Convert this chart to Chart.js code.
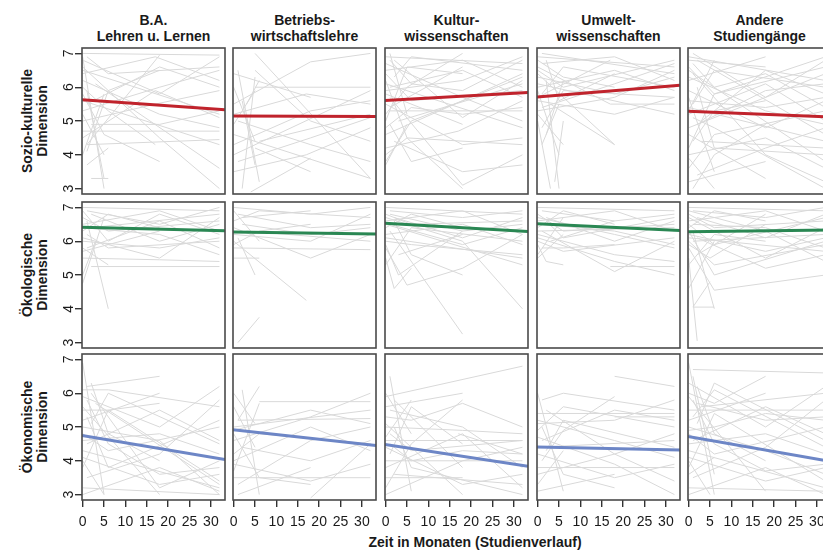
<!DOCTYPE html>
<html lang="de">
<head>
<meta charset="utf-8">
<title>Verläufe der Dimensionen nach Studiengang</title>
<script src="https://cdn.jsdelivr.net/npm/chart.js@4.4.1/dist/chart.umd.min.js"></script>
<style>
  html, body { margin: 0; padding: 0; background: #fff; }
  body {
    width: 823px; height: 551px; position: relative; overflow: hidden;
    font-family: "Liberation Sans", Arial, sans-serif; color: #1a1a1a;
  }
  canvas { position: absolute; }
  .titel {
    position: absolute; top: 12px; width: 170px; text-align: center;
    font-weight: bold; font-size: 14px; line-height: 16px; white-space: pre-line;
  }
  .dim {
    position: absolute; left: 35px; font-weight: bold; font-size: 14px; line-height: 15px;
    text-align: center; white-space: pre; transform: translate(-50%, -50%) rotate(-90deg);
  }
  #xtitel {
    position: absolute; left: 475px; top: 534px; transform: translateX(-50%);
    font-weight: bold; font-size: 14px; line-height: 16px; white-space: nowrap;
  }
</style>
</head>
<body>
<div id="xtitel">Zeit in Monaten (Studienverlauf)</div>
<script>
// Spalten / Zeilen / Achsen
const studiengaenge = ['B.A.\nLehren u. Lernen', 'Betriebs-\nwirtschaftslehre', 'Kultur-\nwissenschaften', 'Umwelt-\nwissenschaften', 'Andere\nStudiengänge'];
const dimensionen = ['Sozio-kulturelle\nDimension', 'Ökologische\nDimension', 'Ökonomische\nDimension'];
const zeitTicks = [0, 5, 10, 15, 20, 25, 30];
const skalaTicks = [3, 4, 5, 6, 7];

// Trendlinien: Wert am Anfang und Ende des Zeitraums, je Studiengang
const trendZeit = [-0.15, 33.3];
const trendSozio = [[5.63, 5.33], [5.15, 5.13], [5.61, 5.84], [5.71, 6.06], [5.29, 5.12]];
const trendOeko = [[6.41, 6.31], [6.27, 6.21], [6.53, 6.29], [6.52, 6.32], [6.28, 6.33]];
const trendOekon = [[4.75, 4.04], [4.92, 4.45], [4.48, 3.84], [4.41, 4.32], [4.72, 3.98]];

// Einzelverläufe (Monat, Wert, Monat, Wert, ...)
const verlaeufeSozio = [
  [ // B.A. Lehren u. Lernen
    [0,7.0, 32,6.95], [0,6.9, 5,3.0], [1,4.3, 18,6.95], [1,4.3, 32,4.45], [0,5.6, 32,4.3],
    [0,6.8, 18,5.8, 32,6.9], [0,6.4, 17,6.9, 32,6.2], [1,5.9, 5,3.3], [0,5.2, 5,4.0],
    [1,4.1, 6,5.9, 18,6.5], [0,6.6, 18,4.5, 32,3.0], [0,5.0, 17,5.5, 32,5.9], [0,4.7, 32,4.7],
    [2,3.3, 6,3.3], [0,6.2, 18,5.2, 32,4.8], [0,6.0, 6,5.3, 17,4.3], [1,5.5, 18,6.6, 32,6.0],
    [0,4.5, 17,5.9, 32,5.1], [1,6.9, 6,6.4, 32,6.6], [0,5.8, 5,4.6, 18,3.8], [2,4.9, 18,4.9, 32,5.3],
    [0,6.5, 32,5.2], [1,3.7, 6,4.2], [0,5.3, 18,6.0, 32,6.5], [3,6.1, 32,3.6], [0,4.0, 5,5.8]
  ],
  [ // Betriebswirtschaftslehre
    [0,5.5, 18,6.75, 32,7.0], [5,7.0, 32,3.3], [0,4.0, 32,5.9], [2,3.0, 5,6.3], [0,6.0, 5,4.4],
    [1,6.5, 6,3.2], [3,5.5, 6,6.2], [0,4.6, 32,3.3], [0,4.3, 18,5.3, 32,5.6], [5,6.5, 18,5.0, 32,4.4],
    [1,3.8, 18,4.5, 32,5.1], [0,5.2, 17,5.8, 32,5.5], [5,4.2, 18,3.5], [0,3.5, 17,4.0, 32,4.8],
    [5,6.0, 32,6.0], [0,4.9, 5,5.9], [2,5.6, 5,3.7], [4,2.9, 18,3.9], [0,6.4, 18,5.7],
    [6,4.4, 32,5.2], [1,5.0, 18,4.3, 32,3.8]
  ],
  [ // Kulturwissenschaften
    [0,6.9, 32,6.7], [1,7.0, 5,5.2], [0,6.5, 18,6.8, 32,6.0], [2,6.8, 18,5.1, 32,6.2],
    [0,5.9, 18,6.2, 32,6.9], [0,6.2, 5,4.5, 18,3.0], [1,5.7, 18,3.1, 32,4.0], [0,5.0, 5,6.6, 18,6.4],
    [0,4.6, 18,5.6, 32,6.4], [1,5.3, 32,5.3], [0,4.2, 17,4.7, 32,5.6], [2,6.3, 6,6.9, 32,6.5],
    [0,5.5, 18,4.3, 32,4.5], [1,4.9, 6,3.8, 18,4.2], [0,6.7, 18,5.7, 32,5.0], [0,3.8, 6,5.0, 32,6.3],
    [1,6.0, 18,6.5, 32,5.7], [0,5.2, 5,6.0, 18,7.0], [2,4.4, 18,3.5, 32,3.7], [0,6.4, 6,5.6, 32,5.9],
    [0,4.0, 5,4.5, 32,4.3], [1,6.8, 6,6.1, 18,5.9, 32,6.8], [0,5.8, 18,4.9], [3,5.0, 32,6.1],
    [0,3.7, 5,4.9], [0,6.1, 32,4.8], [1,5.4, 18,6.6], [0,4.8, 6,5.4, 18,5.2, 32,5.4]
  ],
  [ // Umweltwissenschaften
    [0,6.9, 32,6.6], [1,6.7, 18,6.9, 32,6.2], [0,6.5, 6,6.0, 32,6.8], [0,6.3, 18,5.8, 32,6.3],
    [2,6.8, 5,5.6, 18,6.4], [0,6.0, 18,6.5, 32,5.9], [1,5.8, 6,6.6, 32,6.0], [0,5.6, 18,5.2, 32,5.7],
    [0,6.6, 17,5.5, 32,5.5], [1,5.4, 18,6.1, 32,6.7], [0,5.2, 6,4.3], [2,6.2, 5,3.0], [0,5.0, 3,3.0],
    [1,4.8, 6,5.9, 32,5.7], [0,6.4, 18,4.3], [3,5.5, 18,4.3], [0,5.9, 5,4.0], [1,7.0, 32,6.4],
    [0,5.3, 18,5.7, 32,6.5], [2,4.6, 6,6.2], [0,6.1, 32,5.2], [1,4.3, 5,5.5], [0,6.8, 6,6.3, 18,6.0],
    [4,3.2, 6,5.0], [0,5.7, 17,6.8]
  ],
  [ // Andere Studiengänge
    [0,6.9, 32,6.2], [1,7.0, 18,5.7, 32,6.8], [0,6.6, 6,5.8, 32,6.9], [0,6.2, 18,6.9], [2,6.8, 32,4.6],
    [0,5.9, 18,4.8, 32,5.6], [1,5.5, 6,6.5, 32,6.0], [0,5.2, 18,6.1, 32,5.0], [0,4.8, 32,6.4],
    [1,4.4, 6,5.3, 18,5.6], [0,4.0, 18,4.5, 32,3.6], [2,6.0, 6,4.2, 32,4.0], [0,3.6, 6,4.6, 32,5.3],
    [0,3.2, 18,3.8], [1,6.4, 18,4.0, 32,3.2], [0,5.7, 6,3.5], [3,5.0, 18,6.5, 32,5.8], [0,4.6, 18,3.3],
    [1,6.7, 6,6.0, 18,6.4, 32,5.4], [0,5.4, 32,4.4], [0,4.2, 6,5.8, 32,6.6], [2,3.4, 18,4.2, 32,4.8],
    [0,6.3, 18,5.3, 32,4.9], [1,5.1, 6,4.8, 32,3.0], [0,3.9, 6,3.0], [0,6.8, 18,6.6],
    [2,4.9, 18,5.9, 32,6.1], [0,5.6, 18,5.4, 32,5.7], [1,3.0, 6,4.0, 18,4.9], [0,6.5, 32,3.8],
    [3,4.4, 32,4.2], [0,5.3, 6,6.8]
  ]
];

const verlaeufeOeko = [
  [ // B.A. Lehren u. Lernen
    [0,7.0, 32,6.9], [1,6.9, 18,6.5, 32,7.0], [0,6.7, 6,6.3, 32,6.6], [0,6.5, 18,6.9, 32,6.3],
    [2,6.8, 18,6.0, 32,6.5], [0,6.3, 6,6.8, 18,6.4], [0,6.0, 18,5.8, 32,6.1], [1,5.8, 18,6.6, 32,5.8],
    [0,6.1, 18,5.5, 32,6.7], [0,5.8, 6,5.3], [1,6.6, 6,4.0], [0,4.75, 5,6.7], [2,5.25, 32,5.25],
    [0,5.5, 18,5.45, 32,5.4], [0,6.4, 18,6.2, 32,5.6], [1,6.2, 6,5.8, 32,6.0], [0,5.0, 3,6.0],
    [0,6.9, 6,6.0, 18,6.8, 32,6.2], [2,6.4, 32,6.8], [0,5.7, 18,6.3]
  ],
  [ // Betriebswirtschaftslehre
    [0,7.0, 18,6.8, 32,7.0], [1,6.8, 18,6.4, 32,6.5], [0,6.6, 6,6.9, 32,6.7], [0,6.4, 18,5.5, 32,6.2],
    [2,6.7, 18,6.9], [0,6.2, 18,6.0, 32,6.8], [0,6.0, 17,4.25], [1,3.0, 6,3.75], [1,6.1, 5,5.0],
    [0,5.8, 32,5.75], [0,5.5, 6,5.5], [2,6.5, 18,6.2, 32,6.4], [0,5.9, 6,6.3, 18,6.5], [0,6.9, 6,6.0],
    [3,6.3, 32,6.0]
  ],
  [ // Kulturwissenschaften
    [0,7.0, 32,6.8], [1,6.9, 18,6.7, 32,6.9], [0,6.8, 6,6.5, 32,6.6], [0,6.6, 18,6.9, 32,6.2],
    [2,6.7, 18,6.1, 32,6.7], [0,6.4, 6,6.8, 18,6.4], [0,6.2, 18,6.5, 32,5.9], [1,6.5, 18,5.9, 32,6.4],
    [0,6.0, 6,5.9, 32,5.6], [0,5.9, 3,5.0, 18,6.3], [0,5.5, 2,4.6, 6,5.2], [1,6.3, 18,3.25],
    [0,5.8, 5,4.7, 18,5.2, 32,6.2], [2,6.6, 6,5.6, 18,5.0], [0,6.7, 18,6.0, 32,4.0], [3,5.6, 18,6.2],
    [0,6.1, 32,5.5], [1,6.8, 18,6.3, 32,6.5], [0,5.3, 6,6.4, 32,6.0], [0,6.5, 32,5.3]
  ],
  [ // Umweltwissenschaften
    [0,7.0, 32,6.9], [1,6.9, 18,6.6, 32,6.8], [0,6.8, 6,6.3, 32,6.5], [0,6.6, 18,6.9, 32,6.3],
    [2,6.7, 18,6.0, 32,6.6], [0,6.4, 6,6.9, 18,6.5], [0,6.2, 18,5.6, 32,5.4], [1,6.5, 18,6.3, 32,5.9],
    [0,6.0, 6,5.7, 32,6.1], [0,5.9, 2,5.4, 6,5.3], [0,5.6, 6,6.7], [1,6.3, 18,5.1, 32,6.0],
    [17,5.25, 32,5.25], [0,6.1, 18,5.4, 32,5.0], [2,6.6, 6,6.1, 32,6.7], [0,5.5, 6,6.2],
    [0,6.7, 18,6.2, 32,5.8], [3,6.0, 18,6.6], [0,6.3, 32,6.4], [1,5.8, 6,5.8, 18,5.9]
  ],
  [ // Andere Studiengänge
    [0,7.0, 32,6.9], [1,6.9, 18,6.7, 32,7.0], [0,6.8, 6,6.4, 32,6.6], [0,6.6, 18,6.9, 32,6.3],
    [2,6.7, 18,6.1, 32,6.8], [0,6.4, 6,6.9, 18,6.6], [0,6.2, 18,5.7, 32,6.1], [1,6.5, 18,6.4, 32,5.8],
    [0,6.0, 6,5.3, 32,5.9], [0,5.8, 6,4.55, 32,5.0], [1,4.05, 6,4.05], [1,4.05, 5,4.8], [0,5.5, 2,3.05],
    [1,6.3, 6,4.0], [0,6.7, 18,5.5, 32,6.4], [0,5.3, 6,6.2, 18,6.0], [2,6.1, 18,5.2, 32,5.6],
    [0,6.5, 6,5.9, 32,6.7], [0,5.9, 5,5.5, 18,6.5], [1,6.0, 32,6.2], [0,4.6, 6,6.0],
    [0,6.9, 18,6.3, 32,5.4], [2,5.6, 18,6.8], [0,6.3, 6,5.0, 32,6.0], [0,6.1, 32,5.7]
  ]
];

const verlaeufeOekon = [
  [ // B.A. Lehren u. Lernen
    [0,6.9, 5,3.0], [1,6.2, 18,6.5], [0,6.1, 6,6.1, 32,5.6], [0,5.9, 18,5.0, 32,6.2],
    [2,6.0, 18,3.2, 32,4.0], [0,5.5, 6,5.5, 18,5.7], [1,5.3, 6,3.8, 32,5.2], [0,5.0, 18,4.6, 32,3.0],
    [0,4.8, 6,4.3, 32,5.0], [1,4.5, 18,5.5, 32,4.6], [0,4.3, 32,3.2], [2,6.3, 6,4.8, 18,4.0],
    [0,4.1, 18,3.3, 32,3.6], [0,3.8, 6,5.5, 32,3.4], [1,3.5, 18,4.2, 32,5.8], [0,3.2, 32,3.0],
    [0,5.6, 18,3.0], [2,5.1, 6,6.0, 32,4.5], [0,4.0, 5,3.0], [1,5.8, 6,4.5, 18,3.6, 32,3.8],
    [0,4.6, 18,4.8, 32,4.2], [0,3.0, 18,3.8, 32,3.1], [3,5.7, 32,3.3], [0,5.2, 18,6.0]
  ],
  [ // Betriebswirtschaftslehre
    [0,6.0, 5,5.1], [1,5.2, 6,6.2], [0,5.0, 32,5.5], [6,5.75, 32,5.75], [0,4.6, 18,5.3, 32,6.0],
    [0,4.0, 18,5.0, 32,4.3], [1,5.2, 32,5.25], [0,3.7, 6,5.7], [0,3.5, 32,3.5], [1,3.3, 18,4.6, 32,5.0],
    [0,4.8, 6,3.5, 18,3.3], [2,4.4, 18,4.0, 32,4.6], [0,4.2, 6,4.8, 32,4.5], [0,5.6, 5,4.4],
    [1,3.0, 18,3.8], [0,3.9, 18,3.4, 32,3.9], [18,2.9, 32,4.5], [2,6.1, 6,3.0], [0,4.9, 18,5.5, 32,5.1]
  ],
  [ // Kulturwissenschaften
    [0,5.9, 32,6.8], [1,6.5, 6,3.1], [0,5.6, 18,6.0], [0,5.3, 6,5.2, 18,5.7, 32,5.0], [2,5.8, 18,3.8],
    [0,5.0, 18,4.9, 32,4.8], [1,4.8, 6,4.3, 32,4.6], [0,4.6, 32,4.6], [0,4.4, 18,3.3, 32,3.6],
    [1,4.2, 6,5.6, 18,4.5], [0,4.0, 32,4.0], [0,3.8, 18,4.8, 32,3.2], [2,5.0, 6,3.8, 32,3.0],
    [0,3.5, 18,3.5], [0,3.2, 6,4.5, 18,5.8], [1,5.5, 18,5.0, 32,3.8], [0,4.7, 6,5.8],
    [0,3.0, 18,4.0, 32,4.4], [2,3.6, 32,3.3], [0,5.1, 18,3.0], [1,4.5, 6,4.0, 18,4.3, 32,4.2],
    [17,4.8, 32,4.2], [0,6.0, 6,4.8]
  ],
  [ // Umweltwissenschaften
    [0,6.0, 6,3.1], [1,5.8, 6,6.0, 32,5.5], [0,5.4, 32,5.4], [18,6.5, 32,6.2], [0,5.1, 18,5.2, 32,5.8],
    [0,4.9, 6,5.6, 32,5.0], [1,4.6, 18,5.5, 32,5.2], [0,4.4, 32,4.6], [0,4.2, 18,3.5, 32,3.9],
    [1,4.0, 6,4.9, 18,5.9], [0,3.8, 32,3.8], [2,5.5, 18,4.2, 32,3.4], [0,3.6, 18,4.2, 32,4.8],
    [0,3.3, 6,4.3], [1,5.0, 6,3.6, 18,3.2], [0,4.7, 18,3.9, 32,3.0], [0,3.1, 18,3.6],
    [2,4.3, 6,5.2, 32,4.4], [0,5.2, 18,4.6, 32,4.1], [18,5.3, 32,5.3]
  ],
  [ // Andere Studiengänge
    [0,6.9, 6,3.0], [1,6.7, 32,6.6], [0,6.3, 18,5.0, 32,6.2], [0,6.0, 6,5.7, 18,6.5],
    [2,5.7, 18,5.2, 32,5.3], [0,5.5, 32,5.5], [1,5.3, 6,6.1, 32,4.4], [0,5.0, 18,4.3, 32,3.6],
    [0,4.8, 6,4.2, 32,5.0], [1,4.6, 18,5.6, 32,4.8], [0,4.3, 32,3.2], [2,6.2, 6,4.8, 18,4.0],
    [0,4.1, 18,3.4, 32,3.8], [0,3.8, 6,5.4, 32,3.4], [1,3.5, 18,4.4, 32,5.8], [0,3.2, 32,3.1],
    [0,5.9, 18,3.1], [2,5.1, 6,6.3, 32,4.6], [0,4.0, 5,3.0], [1,5.8, 6,4.5, 18,3.7, 32,3.9],
    [0,4.5, 18,4.8, 32,4.2], [0,3.0, 18,3.8, 32,3.0], [3,5.6, 32,6.0], [0,5.2, 18,6.0],
    [1,6.5, 6,3.6], [0,4.9, 6,5.0, 18,5.4, 32,5.2], [0,3.6, 6,4.1]
  ]
];

// Darstellung
const zeilen = [
  { trend: trendSozio, verlaeufe: verlaeufeSozio, farbe: '#c0232c' },
  { trend: trendOeko, verlaeufe: verlaeufeOeko, farbe: '#2a8753' },
  { trend: trendOekon, verlaeufe: verlaeufeOekon, farbe: '#6d86c6' }
];
const spalteLinks = [82, 233, 385, 537, 688];
const zeileOben = [48, 202, 354];
const breite = 143, hoehe = 146;
const grau = '#d9d9d9';
const schrift = '"Liberation Sans", Arial, sans-serif';
const achsenFont = { family: schrift, size: 14 };

function punkte(flach) {
  const p = [];
  for (let i = 0; i < flach.length; i += 2) p.push({ x: flach[i], y: flach[i + 1] });
  return p;
}

// Rahmen um jedes Panel
const rahmen = {
  id: 'rahmen',
  afterDatasetsDraw(chart) {
    const a = chart.chartArea, ctx = chart.ctx;
    ctx.save();
    ctx.strokeStyle = '#4a4a4a';
    ctx.lineWidth = 1.6;
    ctx.strokeRect(a.left, a.top, a.right - a.left, a.bottom - a.top);
    ctx.restore();
  }
};

// gedrehte Beschriftung der y-Achse (wie in R, parallel zur Achse)
const yBeschriftung = {
  id: 'yBeschriftung',
  afterDraw(chart) {
    const s = chart.scales.y;
    if (!s.options.display) return;
    const ctx = chart.ctx;
    ctx.save();
    ctx.fillStyle = '#1a1a1a';
    ctx.font = '14px ' + schrift;
    ctx.textAlign = 'center';
    ctx.textBaseline = 'middle';
    skalaTicks.forEach(v => {
      ctx.save();
      ctx.translate(chart.chartArea.left - 13, s.getPixelForValue(v));
      ctx.rotate(-Math.PI / 2);
      ctx.fillText(String(v), 0, 0);
      ctx.restore();
    });
    ctx.restore();
  }
};

studiengaenge.forEach((name, c) => {
  const d = document.createElement('div');
  d.className = 'titel';
  d.textContent = name;
  d.style.left = (spalteLinks[c] + breite / 2 - 85) + 'px';
  document.body.appendChild(d);
});

dimensionen.forEach((name, r) => {
  const d = document.createElement('div');
  d.className = 'dim';
  d.textContent = name;
  d.style.top = (zeileOben[r] + hoehe / 2) + 'px';
  document.body.appendChild(d);
});

zeilen.forEach((zeile, r) => {
  studiengaenge.forEach((_, c) => {
    const links = c === 0, unten = r === zeilen.length - 1;
    const cv = document.createElement('canvas');
    cv.width = 32 + breite + 12;
    cv.height = 12 + hoehe + (unten ? 45 : 12);
    cv.style.left = (spalteLinks[c] - 32) + 'px';
    cv.style.top = (zeileOben[r] - 12) + 'px';
    document.body.appendChild(cv);

    const datasets = [{
      data: trendZeit.map((t, i) => ({ x: t, y: zeile.trend[c][i] })),
      borderColor: zeile.farbe,
      borderWidth: 3
    }];
    zeile.verlaeufe[c].forEach(v => {
      datasets.push({ data: punkte(v), borderColor: grau, borderWidth: 1 });
    });

    new Chart(cv, {
      type: 'line',
      data: { datasets },
      options: {
        responsive: false,
        animation: false,
        events: [],
        layout: { padding: { left: links ? 0 : 32, right: 12, top: 12, bottom: unten ? 0 : 12 } },
        elements: { point: { radius: 0 }, line: { tension: 0 } },
        plugins: { legend: { display: false }, tooltip: { enabled: false } },
        scales: {
          x: {
            type: 'linear', min: trendZeit[0], max: trendZeit[1], display: unten,
            afterFit: s => { s.height = unten ? 45 : 0; },
            afterBuildTicks: s => { s.ticks = zeitTicks.map(v => ({ value: v })); },
            grid: { drawOnChartArea: false, drawTicks: true, tickLength: 7, color: '#333', lineWidth: 1.4 },
            border: { display: false },
            ticks: { font: achsenFont, color: '#1a1a1a', padding: 7, maxRotation: 0, autoSkip: false }
          },
          y: {
            type: 'linear', min: 2.84, max: 7.16, display: links,
            afterFit: s => { s.width = links ? 32 : 0; },
            afterBuildTicks: s => { s.ticks = skalaTicks.map(v => ({ value: v })); },
            grid: { drawOnChartArea: false, drawTicks: true, tickLength: 7, color: '#333', lineWidth: 1.4 },
            border: { display: false },
            ticks: { display: false }
          }
        }
      },
      plugins: [rahmen, yBeschriftung]
    });
  });
});
</script>
</body>
</html>
